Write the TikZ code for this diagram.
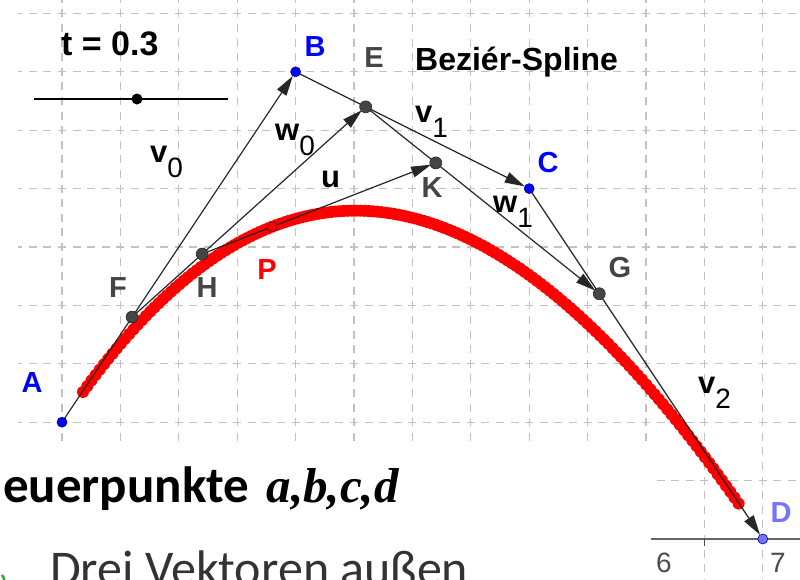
\documentclass[tikz,border=0pt]{standalone}
\usepackage{fontspec}
\setmainfont{Liberation Sans}
\newfontfamily\slidefont{Carlito}
\newfontfamily\abcdfont{Liberation Serif}
\usetikzlibrary{arrows.meta,calc}
\definecolor{ptgray}{HTML}{454545}
\definecolor{ptblue}{HTML}{0000FF}
\definecolor{ptlight}{HTML}{7474FF}
\definecolor{gridgray}{HTML}{C2C2C2}
\definecolor{slidegreen}{HTML}{3EA33E}
\newcommand{\tpar}{0.3}
\newcommand{\vlab}[2]{\textbf{#1}\raisebox{-15pt}{\fontsize{28}{28}\selectfont #2}}
\begin{document}
\begin{tikzpicture}[x=1pt,y=-1pt,
  gridline/.style={gridgray, line width=1.3pt, dash pattern=on 8pt off 6.6pt, dash phase=4pt},
  vec/.style={line width=1.2pt, black!85, -{Triangle[length=20pt,width=11pt]}, shorten >=5pt},
  ptdot/.style={circle, fill=ptgray, draw=black!85, line width=0.6pt, minimum size=12pt, inner sep=0pt},
  ctrldot/.style={circle, fill=ptblue, draw=ptblue!60!black, line width=0.6pt, minimum size=10pt, inner sep=0pt},
  ptlabel/.style={font=\bfseries\fontsize{29}{29}\selectfont, inner sep=0pt},
  veclabel/.style={font=\fontsize{31}{31}\selectfont, anchor=base west, inner sep=0pt}]
\useasboundingbox (0,0) rectangle (800,579);
\clip (0,0) rectangle (800,579);
\fill[white] (0,0) rectangle (800,579);

\foreach \i in {0,...,12}
  \draw[gridline] ({62+58.4*\i},-1.2) -- ({62+58.4*\i},600);
\foreach \j in {0,...,8}
  \draw[gridline] (18.2,{13.4+58.4*\j}) -- (820,{13.4+58.4*\j});
\fill[white] (0,443) rectangle (650,600);
\draw[black!60, line width=1.6pt] (651,539) -- (820,539);
\draw[black!70, line width=1.3pt] (704.4,539) -- (704.4,546);
\node[font=\fontsize{28}{28}\selectfont, text=black!70, inner sep=0pt] (six) at (664,563) {6};
\node[font=\fontsize{28}{28}\selectfont, text=black!70, inner sep=0pt] (seven) at (778,563) {7};

\coordinate (A) at (62,422.2);
\coordinate (B) at (295.6,71.8);
\coordinate (C) at (529.2,188.6);
\coordinate (D) at (762.8,539);
\coordinate (F) at ($(A)!\tpar!(B)$);
\coordinate (E) at ($(B)!\tpar!(C)$);
\coordinate (G) at ($(C)!\tpar!(D)$);
\coordinate (H) at ($(F)!\tpar!(E)$);
\coordinate (K) at ($(E)!\tpar!(G)$);
\coordinate (P) at ($(H)!\tpar!(K)$);

\foreach \s in {0.030,0.036,...,0.971}{
  \path (A) .. controls (B) and (C) .. (D) coordinate[pos=\s] (q);
  \fill[red] (q) circle[radius=6pt];
}

\draw[vec] (A) -- (B);
\draw[vec] (B) -- (C);
\draw[vec] (C) -- (D);
\draw[vec] (F) -- (E);
\draw[vec] (E) -- (G);
\draw[vec] (H) -- (K);

\node[ctrldot] (pA) at (A) {};
\node[ctrldot] (pB) at (B) {};
\node[ctrldot] (pC) at (C) {};
\node[ctrldot, fill=ptlight] (pD) at (D) {};
\node[ptdot] (pE) at (E) {};
\node[ptdot] (pF) at (F) {};
\node[ptdot] (pG) at (G) {};
\node[ptdot] (pH) at (H) {};
\node[ptdot] (pK) at (K) {};
\node[circle, fill=red, draw=red!50!black, line width=0.6pt, minimum size=10pt, inner sep=0pt] (pP) at (P) {};

\node[ptlabel, text=ptblue] (lA) at (32,383) {A};
\node[ptlabel, text=ptblue] (lB) at (315,47) {B};
\node[ptlabel, text=ptblue] (lC) at (548,163) {C};
\node[ptlabel, text=ptlight] (lD) at (781,513) {D};
\node[ptlabel, text=ptgray] (lE) at (374,58) {E};
\node[ptlabel, text=ptgray] (lF) at (118,288) {F};
\node[ptlabel, text=ptgray] (lG) at (620,268) {G};
\node[ptlabel, text=ptgray] (lH) at (207,288) {H};
\node[ptlabel, text=ptgray] (lK) at (432,188) {K};
\node[ptlabel, text=red] (lP) at (267,270) {P};

\node[veclabel] (lv0) at (150,162) {\vlab{v}{0}};
\node[veclabel] (lw0) at (275,140) {\vlab{w}{0}};
\node[veclabel] (lu) at (321,187) {\textbf{u}};
\node[veclabel] (lv1) at (415,122) {\vlab{v}{1}};
\node[veclabel] (lw1) at (493,212) {\vlab{w}{1}};
\node[veclabel] (lv2) at (698,393) {\vlab{v}{2}};

\node[anchor=base west, inner sep=0pt, font=\bfseries\fontsize{34}{34}\selectfont] (tlab) at (61,55) {t = 0.3};
\coordinate (s1) at (34,99);
\coordinate (s2) at (228,99);
\draw[line width=1.3pt] (s1) -- (s2);
\node[circle, fill=black, minimum size=11pt, inner sep=0pt] (knob) at (137,99) {};
\node[anchor=base west, inner sep=0pt, font=\bfseries\fontsize{32}{32}\selectfont] (title) at (415,70) {Beziér-Spline};

\node[anchor=base west, inner sep=0pt, font=\slidefont\bfseries\fontsize{51}{51}\selectfont] (ctrl) at (3,502) {euerpunkte\hspace{6pt} {\abcdfont\itshape\fontsize{49}{49}\selectfont a,b,c,d}};
\node[anchor=base west, inner sep=0pt, font=\slidefont\fontsize{50}{50}\selectfont, text=black!80] (three) at (50,585) {Drei Vektoren außen};
\draw[slidegreen, line width=2.5pt] (-3,570) ++(45:7) arc[start angle=45, end angle=-45, radius=7pt];
\end{tikzpicture}
\end{document}
